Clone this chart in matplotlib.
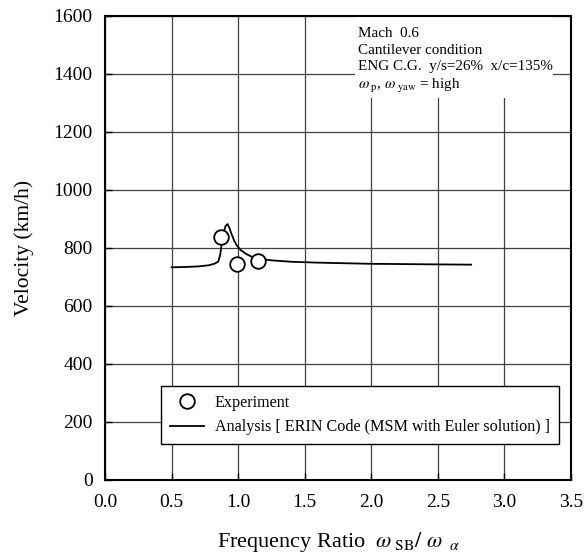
import matplotlib
matplotlib.use("Agg")
import matplotlib.pyplot as plt
from matplotlib.patches import Rectangle

# analysis curve (ERIN code)
ana_ratio = [0.5, 0.6, 0.7, 0.78, 0.82, 0.85, 0.865, 0.875, 0.89, 0.905, 0.92,
             0.935, 0.95, 0.97, 0.99, 1.02, 1.06, 1.1, 1.15, 1.25, 1.4, 1.6,
             1.8, 2.0, 2.25, 2.5, 2.75]
ana_vel = [733, 734, 736, 740, 745, 752, 775, 810, 850, 875, 882,
           868, 848, 825, 808, 792, 779, 770, 763, 757, 752, 749,
           747, 745, 744, 743, 742]

# experiment points
exp_ratio = [0.87, 0.99, 1.15]
exp_vel = [836, 744, 755]

xticks = [0.0, 0.5, 1.0, 1.5, 2.0, 2.5, 3.0, 3.5]
yticks = [0, 200, 400, 600, 800, 1000, 1200, 1400, 1600]

notes = ["Mach  0.6", "Cantilever condition", "ENG C.G.  y/s=26%  x/c=135%"]

plt.rcParams["font.family"] = ["Liberation Serif", "DejaVu Serif"]
plt.rcParams["mathtext.fontset"] = "stix"

fig = plt.figure(figsize=(5.87, 5.57), dpi=100)
ax = fig.add_axes([105 / 587, 1 - 480 / 557, 466 / 587, 464.3 / 557])

ax.set_xlim(0, 3.5)
ax.set_ylim(0, 1600)
ax.set_xticks(xticks)
ax.set_yticks(yticks)
ax.set_xticklabels([f"{t:.1f}" for t in xticks])
ax.tick_params(direction="in", length=5, width=1, labelsize=14)
ax.tick_params(axis="x", pad=10)
ax.tick_params(axis="y", pad=9)
ax.grid(True, color="0.25", linewidth=0.9)
ax.set_axisbelow(True)
for s in ax.spines.values():
    s.set_linewidth(1.5)

# white area behind the condition notes
ax.add_patch(Rectangle((0.536, 0.823), 0.425, 0.2, transform=ax.transAxes,
                       facecolor="white", edgecolor="none", zorder=1))

ax.plot(ana_ratio, ana_vel, color="black", linewidth=1.3, zorder=3,
        label="Analysis [ ERIN Code (MSM with Euler solution) ]")
ax.plot(exp_ratio, exp_vel, linestyle="none", marker="o", markersize=10.5,
        markerfacecolor="white", markeredgecolor="black", markeredgewidth=1.3,
        zorder=4, label="Experiment")

handles, labels = ax.get_legend_handles_labels()
leg = ax.legend(handles[::-1], labels[::-1], loc="lower left",
                bbox_to_anchor=(0.12, 0.0775), borderaxespad=0, fontsize=11.6,
                fancybox=False, framealpha=1, edgecolor="black",
                handlelength=2.1, handletextpad=0.7, labelspacing=0.5,
                borderpad=0.55)
leg.get_frame().set_linewidth(1.0)

ytop = 1 - (33.4 - 15.7) / 464.3
for i, line in enumerate(notes):
    ax.text(0.543, ytop - i * 16.7 / 464.3, line, transform=ax.transAxes,
            fontsize=10.9, va="center", ha="left", zorder=5)
ax.text(0.543, ytop - 3 * 17.5 / 464.3,
        r"$\omega_{\ \mathrm{p}}$, $\omega_{\ \mathrm{yaw}}$ = high",
        transform=ax.transAxes, fontsize=10.9, va="center", ha="left", zorder=5)

ax.set_ylabel("Velocity (km/h)", fontsize=15.5, labelpad=14)
ax.set_xlabel(r"Frequency Ratio  $\omega_{\ \mathrm{SB}}/\ \omega_{\ \ \alpha}$",
              fontsize=16, labelpad=14)

fig.savefig("out.png", dpi=100)
